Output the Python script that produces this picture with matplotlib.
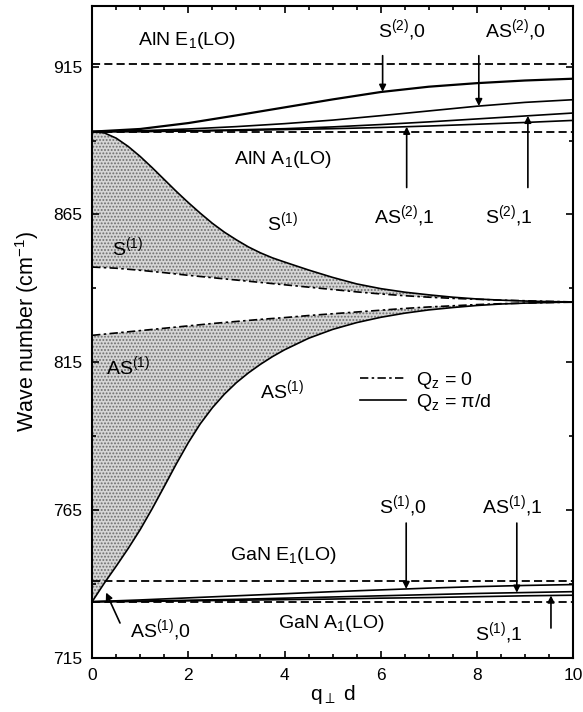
import numpy as np
import matplotlib
matplotlib.use("Agg")
import matplotlib.pyplot as plt
from matplotlib.ticker import MultipleLocator, AutoMinorLocator
from matplotlib.lines import Line2D

plt.rcParams['font.family'] = ['Liberation Sans', 'DejaVu Sans']
plt.rcParams['mathtext.fontset'] = 'custom'
plt.rcParams['mathtext.rm'] = 'Liberation Sans'
plt.rcParams['mathtext.it'] = 'Liberation Sans:italic'
plt.rcParams['mathtext.default'] = 'regular'
plt.rcParams['hatch.linewidth'] = 0.9

# bulk LO frequencies (cm^-1)
ALN_E1 = 916.0
ALN_A1 = 893.0
GAN_E1 = 741.1
GAN_A1 = 734.0

# S(1) branch, Qz = pi/d (finer step at small q)
x_s1 = [0, 0.25, 0.5, 0.75, 1, 1.25, 1.5, 1.75, 2, 2.25, 2.5, 2.75, 3, 3.25, 3.5, 3.75,
        4, 4.5, 5, 5.5, 6, 6.5, 7, 7.5, 8, 8.5, 9, 9.5, 10]
s1_pi = [893.0, 892.6, 890.8, 888.0, 884.6, 880.8, 876.8, 872.8, 869.0, 865.4, 862.0,
         859.0, 856.4, 854.0, 852.0, 850.3, 848.9, 846.2, 843.7, 841.5, 839.9, 838.7,
         837.8, 837.0, 836.4, 836.0, 835.7, 835.5, 835.4]

# Qz = 0 branches (x step 0.5)
x_half = np.arange(0, 10.01, 0.5)
s1_0 = [847.2, 846.8, 846.1, 845.3, 844.4, 843.6, 842.8, 842.0, 841.2, 840.4, 839.6,
        838.8, 838.1, 837.5, 837.0, 836.6, 836.3, 836.0, 835.8, 835.6, 835.4]
as1_0 = [824.1, 824.9, 825.7, 826.5, 827.3, 828.1, 828.8, 829.5, 830.1, 830.8, 831.4,
         832.0, 832.6, 833.2, 833.7, 834.1, 834.5, 834.8, 835.0, 835.2, 835.3]

# AS(1) branch, Qz = pi/d
x_as1 = [0, 0.25, 0.5, 0.75, 1, 1.25, 1.5, 1.75, 2, 2.25, 2.5, 2.75, 3, 3.25, 3.5, 3.75,
         4, 4.5, 5, 5.5, 6, 6.5, 7, 7.5, 8, 8.5, 9, 9.5, 10]
as1_pi = [734.0, 740.2, 746.0, 752.0, 758.4, 765.5, 773.0, 780.6, 787.8, 794.2, 799.6,
          804.2, 808.1, 811.4, 814.3, 816.9, 819.2, 823.1, 826.1, 828.4, 830.2, 831.6,
          832.7, 833.5, 834.2, 834.7, 835.0, 835.2, 835.4]

# branches near the LO lines (x step 1)
x_int = np.arange(0, 11, 1)
s2_0 = [893.0, 893.9, 895.9, 898.5, 901.2, 903.9, 906.4, 908.2, 909.4, 910.3, 910.9]
as2_0 = [893.0, 893.3, 893.9, 894.7, 895.7, 896.9, 898.4, 900.0, 901.6, 902.9, 903.8]
s2_1 = [893.0, 893.1, 893.3, 893.6, 894.0, 894.6, 895.4, 896.3, 897.3, 898.3, 899.3]
as2_1 = [893.0, 893.0, 893.2, 893.4, 893.7, 894.0, 894.4, 894.9, 895.5, 896.1, 896.8]
s1_0g = [734.0, 734.6, 735.3, 736.0, 736.7, 737.4, 738.0, 738.6, 739.1, 739.5, 739.8]
as1_1g = [734.0, 734.2, 734.5, 734.8, 735.2, 735.6, 736.0, 736.4, 736.8, 737.1, 737.4]
s1_1g = [734.0, 734.1, 734.3, 734.5, 734.7, 734.9, 735.2, 735.4, 735.7, 736.0, 736.2]

fig = plt.figure(figsize=(5.83, 7.12), dpi=100)
ax = fig.add_axes([0.158, 0.076, 0.825, 0.916])

DASH = (0, (4.5, 2.3))
DASHDOT = (0, (5, 2, 1.5, 2))
LW = 1.2

# shaded regions
ax.fill_between(x_s1, np.interp(x_s1, x_half, s1_0), s1_pi, facecolor='#d6d6d6',
                edgecolor='#6e6e6e', hatch='.....', linewidth=0)
ax.fill_between(x_as1, np.interp(x_as1, x_half, as1_0), as1_pi, facecolor='#d6d6d6',
                edgecolor='#6e6e6e', hatch='.....', linewidth=0)

# bulk lines
for v in [ALN_E1, ALN_A1, GAN_E1, GAN_A1]:
    ax.axhline(v, color='k', lw=1.3, linestyle=DASH)

ax.plot(x_s1, s1_pi, color='k', lw=LW)
ax.plot(x_as1, as1_pi, color='k', lw=LW)
ax.plot(x_half, s1_0, color='k', lw=LW, linestyle=DASHDOT)
ax.plot(x_half, as1_0, color='k', lw=LW, linestyle=DASHDOT)

ax.plot(x_int, s2_0, color='k', lw=1.6)
for yy in [as2_0, s2_1, as2_1, s1_0g, as1_1g, s1_1g]:
    ax.plot(x_int, yy, color='k', lw=LW)

FS = 14
txt = dict(fontsize=FS, ha='center', va='baseline')
ax.text(1.98, 922.4, 'AlN E$_1$(LO)', **txt)
ax.text(3.97, 882.2, 'AlN A$_1$(LO)', **txt)
ax.text(3.97, 748.1, 'GaN E$_1$(LO)', **txt)
ax.text(4.97, 725.1, 'GaN A$_1$(LO)', **txt)
ax.text(3.96, 859.6, 'S$^{(1)}$', **txt)
ax.text(0.73, 851.1, 'S$^{(1)}$', **txt)
ax.text(0.75, 810.9, 'AS$^{(1)}$', **txt)
ax.text(3.95, 802.8, 'AS$^{(1)}$', **txt)

arrow = dict(arrowstyle='-|>', color='k', lw=1.2, mutation_scale=10,
             shrinkA=0, shrinkB=0)


def mark(label, tx, ty, ax_x, y0, xs, ys):
    ax.text(tx, ty, label, **txt)
    ax.annotate('', xy=(ax_x, np.interp(ax_x, xs, ys)), xytext=(ax_x, y0),
                arrowprops=arrow)


mark('S$^{(2)}$,0', 6.44, 925.1, 6.04, 918.7, x_int, s2_0)
mark('AS$^{(2)}$,0', 8.80, 925.1, 8.04, 918.7, x_int, as2_0)
mark('AS$^{(2)}$,1', 6.50, 862.3, 6.54, 874.1, x_int, as2_1)
mark('S$^{(2)}$,1', 8.67, 862.3, 9.06, 874.1, x_int, s2_1)
mark('S$^{(1)}$,0', 6.47, 764.0, 6.53, 760.6, x_int, s1_0g)
mark('AS$^{(1)}$,1', 8.74, 764.0, 8.83, 760.6, x_int, as1_1g)
mark('S$^{(1)}$,1', 8.45, 721.1, 9.54, 725.1, x_int, s1_1g)

ax.text(1.43, 722.1, 'AS$^{(1)}$,0', **txt)
ax.annotate('', xy=(0.29, 737.1), xytext=(0.58, 726.8), arrowprops=arrow)

# legend
handles = [Line2D([], [], color='k', lw=LW, linestyle=DASHDOT),
           Line2D([], [], color='k', lw=LW)]
ax.legend(handles, ['Q$_z$ = 0', 'Q$_z$ = π/d'], loc='upper left',
          bbox_to_anchor=(0.52, 0.468), frameon=False, fontsize=FS,
          handlelength=2.4, labelspacing=0.05, handletextpad=0.5)

ax.set_xlim(0, 10)
ax.set_ylim(715, 935.6)
ax.xaxis.set_major_locator(MultipleLocator(2))
ax.xaxis.set_minor_locator(AutoMinorLocator(4))
ax.yaxis.set_minor_locator(AutoMinorLocator(2))
ax.set_yticks([715, 765, 815, 865, 915])
ax.tick_params(which='both', direction='in', top=True, right=True, labelsize=12.5, width=1.2)
ax.tick_params(which='major', length=5, pad=7)
ax.tick_params(which='minor', length=3)
for s in ax.spines.values():
    s.set_linewidth(1.5)

ax.set_xlabel(r'q$_\perp$ d', fontsize=15, labelpad=0)
ax.set_ylabel('Wave number (cm$^{-1}$)', fontsize=15.5, labelpad=9)

fig.savefig('out.png', dpi=100)
